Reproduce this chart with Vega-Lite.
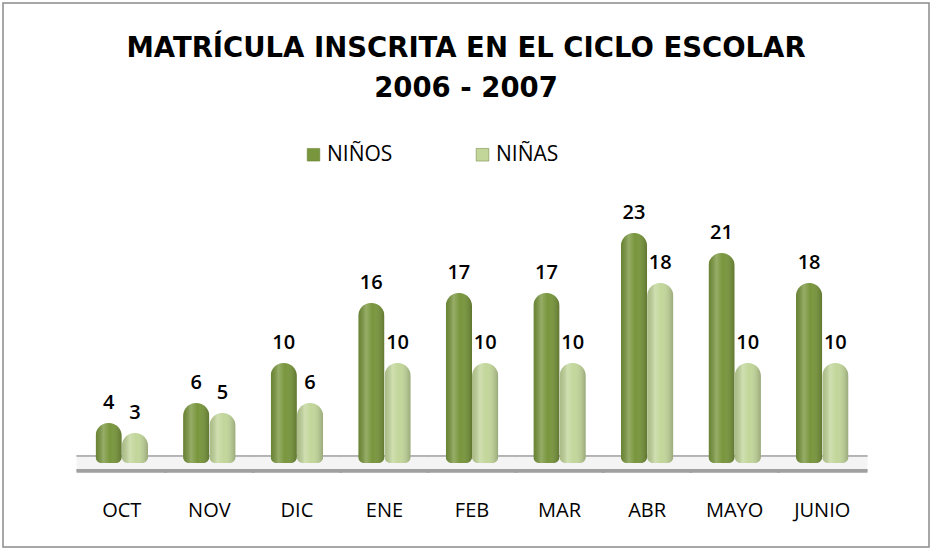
{
  "$schema": "https://vega.github.io/schema/vega-lite/v6.json",
  "width": 926,
  "height": 544,
  "padding": 3,
  "autosize": {"type": "none"},
  "background": "white",
  "title": {
    "text": ["MATRÍCULA INSCRITA EN EL CICLO ESCOLAR", "2006 - 2007"],
    "orient": "top",
    "anchor": "middle",
    "offset": -99,
    "font": "DejaVu Sans",
    "fontSize": 27.5,
    "fontWeight": "bold",
    "color": "#000000",
    "lineHeight": 40
  },
  "data": {
    "values": [
      {"mes": "OCT", "sexo": "NIÑOS", "valor": 4},
      {"mes": "OCT", "sexo": "NIÑAS", "valor": 3},
      {"mes": "NOV", "sexo": "NIÑOS", "valor": 6},
      {"mes": "NOV", "sexo": "NIÑAS", "valor": 5},
      {"mes": "DIC", "sexo": "NIÑOS", "valor": 10},
      {"mes": "DIC", "sexo": "NIÑAS", "valor": 6},
      {"mes": "ENE", "sexo": "NIÑOS", "valor": 16},
      {"mes": "ENE", "sexo": "NIÑAS", "valor": 10},
      {"mes": "FEB", "sexo": "NIÑOS", "valor": 17},
      {"mes": "FEB", "sexo": "NIÑAS", "valor": 10},
      {"mes": "MAR", "sexo": "NIÑOS", "valor": 17},
      {"mes": "MAR", "sexo": "NIÑAS", "valor": 10},
      {"mes": "ABR", "sexo": "NIÑOS", "valor": 23},
      {"mes": "ABR", "sexo": "NIÑAS", "valor": 18},
      {"mes": "MAYO", "sexo": "NIÑOS", "valor": 21},
      {"mes": "MAYO", "sexo": "NIÑAS", "valor": 10},
      {"mes": "JUNIO", "sexo": "NIÑOS", "valor": 18},
      {"mes": "JUNIO", "sexo": "NIÑAS", "valor": 10}
    ]
  },
  "encoding": {
    "x": {
      "field": "mes",
      "type": "nominal",
      "sort": ["OCT", "NOV", "DIC", "ENE", "FEB", "MAR", "ABR", "MAYO", "JUNIO"],
      "scale": {"range": [75, 863], "paddingInner": 0.4, "paddingOuter": 0.2},
      "axis": {
        "title": null,
        "domain": false,
        "ticks": false,
        "labelPadding": 0,
        "offset": -47,
        "labelAngle": 0,
        "labelFont": "Open Sans",
        "labelFontSize": 20,
        "labelFontWeight": 500,
        "labelColor": "#000000",
        "labelBaseline": "top"
      }
    }
  },
  "layer": [
    {
      "mark": {"type": "bar", "color": "#f4f4f4", "width": {"band": 1.72}},
      "encoding": {
        "y": {"datum": 0.7, "type": "quantitative", "scale": {"domain": [0, 46], "range": [460, 0], "nice": false, "zero": true}, "axis": null},
        "y2": {"datum": -0.6}
      }
    },
    {
      "mark": {"type": "bar", "color": "#b3b3b3", "width": {"band": 1.72}},
      "encoding": {
        "y": {"datum": 0.8, "type": "quantitative"},
        "y2": {"datum": 0.62}
      }
    },
    {
      "mark": {"type": "bar", "color": "#a0a0a0", "width": {"band": 1.72}},
      "encoding": {
        "y": {"datum": -0.6, "type": "quantitative"},
        "y2": {"datum": -0.95}
      }
    },
    {
      "mark": {"type": "bar", "cornerRadiusTopLeft": 13, "cornerRadiusTopRight": 13, "cornerRadiusBottomLeft": 6, "cornerRadiusBottomRight": 6},
      "encoding": {
        "y": {"field": "valor", "type": "quantitative"},
        "xOffset": {"field": "sexo", "type": "nominal", "sort": ["NIÑOS", "NIÑAS"], "scale": {"paddingInner": 0, "paddingOuter": 0}},
        "color": {
          "field": "sexo",
          "type": "nominal",
          "sort": ["NIÑOS", "NIÑAS"],
          "scale": {"domain": ["NIÑOS", "NIÑAS"], "range": ["#78963C", "#C2D69A"]},
          "legend": {
            "title": null,
            "orient": "none",
            "legendX": 300,
            "legendY": 141,
            "direction": "horizontal",
            "symbolType": "square",
            "symbolSize": 160,
            "symbolStrokeWidth": 0.5,
            "symbolStrokeColor": "#6a7f3a",
            "labelFont": "Open Sans",
            "labelFontSize": 21,
            "labelFontWeight": 500,
            "labelColor": "#000000",
            "labelOffset": 3,
            "columnPadding": 79
          }
        }
      }
    },
    {
      "mark": {
        "type": "bar",
        "cornerRadiusTopLeft": 13, "cornerRadiusTopRight": 13, "cornerRadiusBottomLeft": 6, "cornerRadiusBottomRight": 6,
        "fill": {
          "gradient": "linear", "x1": 0, "y1": 0, "x2": 1, "y2": 0,
          "stops": [
            {"offset": 0, "color": "rgba(0,0,0,0.12)"},
            {"offset": 0.3, "color": "rgba(255,255,255,0.22)"},
            {"offset": 0.55, "color": "rgba(255,255,255,0.0)"},
            {"offset": 1, "color": "rgba(0,0,0,0.22)"}
          ]
        }
      },
      "encoding": {
        "y": {"field": "valor", "type": "quantitative"},
        "xOffset": {"field": "sexo", "type": "nominal", "sort": ["NIÑOS", "NIÑAS"]}
      }
    },
    {
      "mark": {"type": "text", "baseline": "bottom", "dy": -10, "font": "Open Sans", "fontSize": 20, "fontWeight": 600, "color": "#000000"},
      "encoding": {
        "y": {"field": "valor", "type": "quantitative"},
        "xOffset": {"field": "sexo", "type": "nominal", "sort": ["NIÑOS", "NIÑAS"]},
        "text": {"field": "valor", "type": "quantitative"}
      }
    }
  ],
  "config": {
    "view": {"stroke": "#8a8a8a", "strokeWidth": 1.5}
  }
}
